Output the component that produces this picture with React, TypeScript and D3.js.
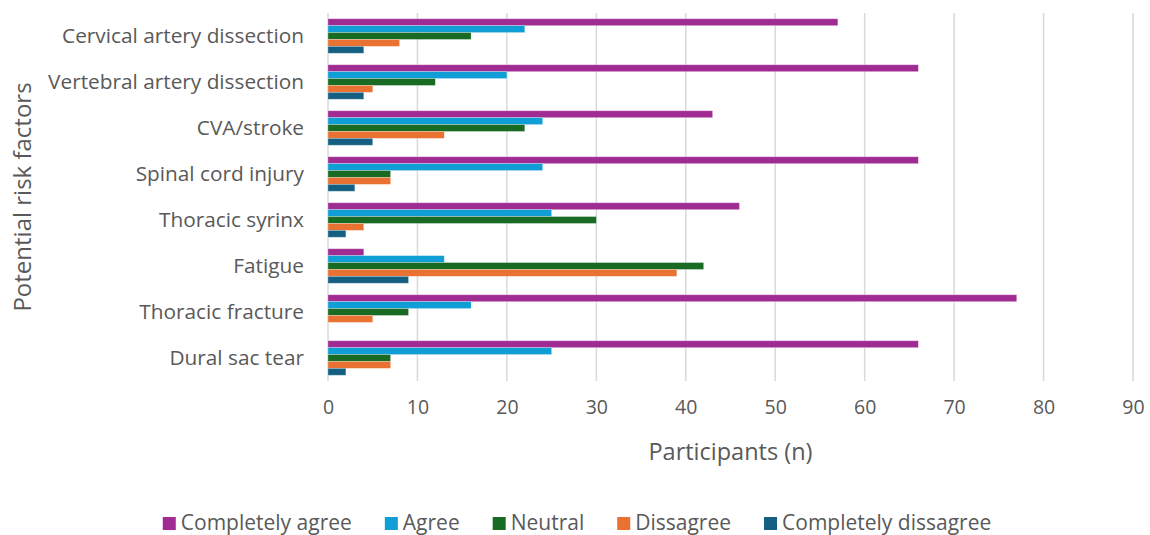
import React, { useEffect, useRef } from 'react';
import * as d3 from 'd3';

const categories = [
    'Cervical artery dissection',
    'Vertebral artery dissection',
    'CVA/stroke',
    'Spinal cord injury',
    'Thoracic syrinx',
    'Fatigue',
    'Thoracic fracture',
    'Dural sac tear',
];

const seriesNames = ['Completely agree', 'Agree', 'Neutral', 'Dissagree', 'Completely dissagree'];
const seriesColors = ['#A02B93', '#0F9ED5', '#196B24', '#E97132', '#156082'];

const completelyAgree = [57, 66, 43, 66, 46, 4, 77, 66];
const agree = [22, 20, 24, 24, 25, 13, 16, 25];
const neutral = [16, 12, 22, 7, 30, 42, 9, 7];
const disagree = [8, 5, 13, 7, 4, 39, 5, 7];
const completelyDisagree = [4, 4, 5, 3, 2, 9, 0, 2];

const xTicks = [0, 10, 20, 30, 40, 50, 60, 70, 80, 90];

const FONT = '"Open Sans", sans-serif';
const TEXT = '#595959';

const Chart: React.FC = () => {
    const svgRef = useRef<SVGSVGElement>(null);

    useEffect(() => {
        if (!svgRef.current) return;
        const width = 1150;
        const height = 535;
        const margin = { top: 13, right: 17, bottom: 154, left: 328 };
        const innerWidth = width - margin.left - margin.right;
        const innerHeight = height - margin.top - margin.bottom;

        const svg = d3.select(svgRef.current);
        svg.selectAll('*').remove();

        const g = svg.append('g').attr('transform', `translate(${margin.left},${margin.top})`);

        const values = [completelyAgree, agree, neutral, disagree, completelyDisagree];

        // Scales
        const xScale = d3.scaleLinear().domain([0, 90]).range([0, innerWidth]);
        const yScale = d3.scaleBand<string>().domain(categories).range([0, innerHeight])
            .paddingInner(0.25).paddingOuter(0.125);
        const inner = d3.scaleBand<string>().domain(seriesNames).range([0, yScale.bandwidth()]);

        // Gridlines
        g.append('g')
            .selectAll('line')
            .data(xTicks)
            .enter()
            .append('line')
            .attr('x1', d => xScale(d))
            .attr('x2', d => xScale(d))
            .attr('y1', 0)
            .attr('y2', innerHeight)
            .attr('stroke', '#D9D9D9')
            .attr('stroke-width', 1.5);

        // X axis labels
        const xAxis = d3.axisBottom(xScale).tickValues(xTicks).tickSize(0).tickPadding(19);
        const xg = g.append('g').attr('transform', `translate(0,${innerHeight})`).call(xAxis);
        xg.select('.domain').remove();
        xg.selectAll('text')
            .attr('fill', TEXT)
            .style('font-size', '19.5px')
            .style('font-family', FONT);

        // Y axis labels
        const yAxis = d3.axisLeft(yScale).tickSize(0).tickPadding(24);
        const yg = g.append('g').call(yAxis);
        yg.select('.domain').remove();
        yg.selectAll('text')
            .attr('fill', TEXT)
            .style('font-size', '20.8px')
            .style('font-family', FONT);

        // Bars
        seriesNames.forEach((name, si) => {
            g.append('g')
                .selectAll('rect')
                .data(categories.map((c, i) => ({ c, v: values[si][i] })))
                .enter()
                .append('rect')
                .attr('x', 0)
                .attr('y', d => (yScale(d.c) ?? 0) + (inner(name) ?? 0))
                .attr('width', d => xScale(d.v))
                .attr('height', inner.bandwidth())
                .attr('fill', seriesColors[si])
                .attr('stroke', '#ffffff')
                .attr('stroke-opacity', 0.35)
                .attr('stroke-width', 0.75);
        });

        // Axis titles
        svg.append('text')
            .attr('x', margin.left + innerWidth / 2)
            .attr('y', 460)
            .attr('fill', TEXT)
            .style('font-size', '23.5px')
            .style('font-family', FONT)
            .style('text-anchor', 'middle')
            .text('Participants (n)');

        svg.append('text')
            .attr('transform', 'rotate(-90)')
            .attr('x', -197)
            .attr('y', 31)
            .attr('fill', TEXT)
            .style('font-size', '24px')
            .style('font-family', FONT)
            .style('text-anchor', 'middle')
            .text('Potential risk factors');

        // Legend
        const legend = svg.append('g');
        const items = legend.selectAll('g')
            .data(seriesNames)
            .enter()
            .append('g');
        items.append('rect')
            .attr('width', 13)
            .attr('height', 13)
            .attr('y', -13)
            .attr('fill', (_, i) => seriesColors[i]);
        items.append('text')
            .attr('x', 18)
            .attr('fill', TEXT)
            .style('font-size', '21px')
            .style('font-family', FONT)
            .text(d => d);

        const gap = 33;
        let cursor = 0;
        items.each(function () {
            const t = d3.select(this).select('text').node() as SVGTextElement;
            const w = 18 + t.getComputedTextLength();
            d3.select(this).attr('transform', `translate(${cursor},0)`);
            cursor += w + gap;
        });
        const total = cursor - gap;
        legend.attr('transform', `translate(${width / 2 - total / 2 + 2},530)`);
    }, []);

    return <svg ref={svgRef} width={1150} height={535} style={{ position: 'absolute', left: 0, top: 0, background: '#fff' }} />;
};

export default function App() {
    return <Chart />;
}
